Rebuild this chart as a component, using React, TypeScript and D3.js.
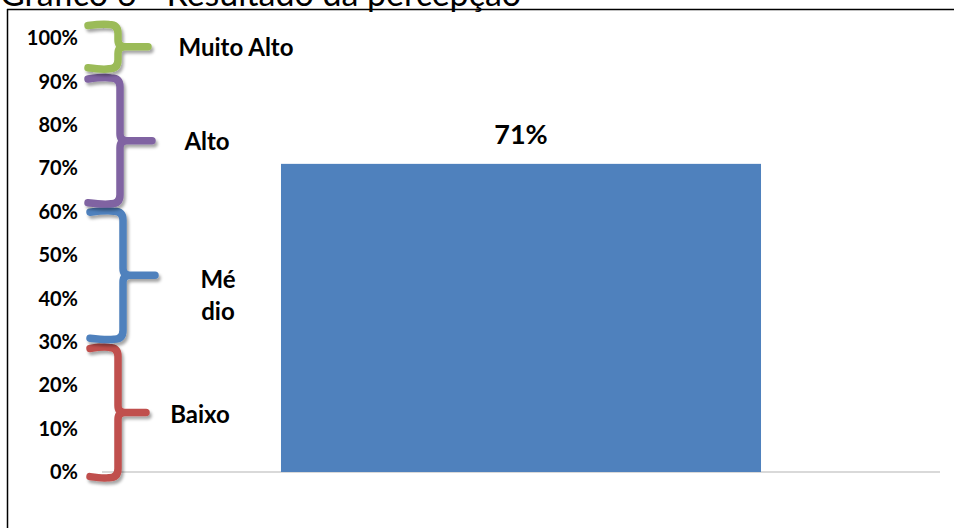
import React from "react";
import * as d3 from "d3";

// ---- data ----
const categories = ["Resultado"];
const values = [0.71];
const yTicks = [0, 0.1, 0.2, 0.3, 0.4, 0.5, 0.6, 0.7, 0.8, 0.9, 1.0];
const titleText = "Gráfico 6 - Resultado da percepção";

// perception bands (braces), ranges
const bandNames = ["Baixo", "Médio", "Alto", "Muito Alto"];
const bandLines = [["Baixo"], ["Mé", "dio"], ["Alto"], ["Muito Alto"]];
const bandLow = [-0.013, 0.306, 0.618, 0.929];
const bandHigh = [0.287, 0.601, 0.908, 1.031];
const bandColors = ["#C0504D", "#4F81BD", "#8064A2", "#9BBB59"];

// ---- layout (not data) ----
const W = 954;
const H = 528;
const braceLeft = [90, 90, 88, 88];
const braceSpine = [118, 123, 120, 118];
const braceTip = [146, 155, 152, 148];
const labelCx = [200, 218, 207, 236];
const labelDy = [2, 4, 1, 1];

const FONT = "Lato, 'Open Sans', sans-serif";

function bracePath(L: number, S: number, P: number, T: number, B: number) {
  const M = (T + B) / 2;
  const r = 9;
  const q = 7;
  return [
    `M${L},${T + 1}`,
    `Q${(L + S) / 2},${T - 1} ${S - r},${T}`,
    `Q${S},${T} ${S},${T + r}`,
    `L${S},${M - q}`,
    `Q${S},${M} ${S + q},${M}`,
    `L${P},${M}`,
    `M${S + q},${M}`,
    `Q${S},${M} ${S},${M + q}`,
    `L${S},${B - r}`,
    `Q${S},${B} ${S - r},${B}`,
    `Q${(L + S) / 2},${B + 1} ${L},${B - 1}`,
  ].join(" ");
}

export default function App() {
  const y = d3.scaleLinear().domain([0, 1]).range([472, 38]);
  const x = d3
    .scaleBand<string>()
    .domain(categories)
    .range([102, 940])
    .paddingInner(0.2716)
    .paddingOuter(0.2716);
  const fmt = d3.format(".0%");

  return (
    <svg
      width={W}
      height={H}
      style={{ position: "fixed", left: 0, top: 0, background: "#fff" }}
      fontFamily={FONT}
    >
      <defs>
        <filter id="shadow" x="-50%" y="-50%" width="200%" height="200%">
          <feDropShadow dx="2" dy="3" stdDeviation="1.8" floodColor="#000" floodOpacity="0.35" />
        </filter>
      </defs>
      <rect x={0} y={0} width={W} height={H} fill="#fff" />

      {/* title, cut off by the top of the page as in the reference */}
      <text x={0} y={6} fontSize={34} fill="#000" fontFamily={FONT}>
        {titleText}
      </text>

      {/* frame */}
      <line x1={7} x2={W} y1={9.5} y2={9.5} stroke="#000" strokeWidth={1.5} />
      <line x1={7.5} x2={7.5} y1={9} y2={H} stroke="#000" strokeWidth={1.5} />

      {/* baseline */}
      <line
        x1={x.range()[0]}
        x2={x.range()[1]}
        y1={y(0)}
        y2={y(0)}
        stroke="#D9D9D9"
        strokeWidth={2}
      />

      {/* bars */}
      {categories.map((c, i) => (
        <g key={c}>
          <rect
            x={x(c)}
            y={y(values[i])}
            width={x.bandwidth()}
            height={y(0) - y(values[i])}
            fill="#4F81BD"
          />
          <text
            x={(x(c) as number) + x.bandwidth() / 2}
            y={y(values[i]) - 20}
            textAnchor="middle"
            fontSize={27}
            fontWeight="bold"
            fill="#000"
          >
            {fmt(values[i])}
          </text>
        </g>
      ))}

      {/* y tick labels */}
      {yTicks.map((t) => (
        <text
          key={t}
          x={78}
          y={y(t)}
          dy="0.36em"
          textAnchor="end"
          fontSize={20}
          fontWeight="bold"
          fill="#000"
        >
          {fmt(t)}
        </text>
      ))}

      {/* braces */}
      {bandNames.map((name, i) => {
        const T = y(bandHigh[i]);
        const B = y(bandLow[i]);
        return (
          <path
            key={name}
            d={bracePath(braceLeft[i], braceSpine[i], braceTip[i], T, B)}
            fill="none"
            stroke={bandColors[i]}
            strokeWidth={7.5}
            strokeLinecap="round"
            strokeLinejoin="round"
            filter="url(#shadow)"
          />
        );
      })}

      {/* band labels */}
      {bandNames.map((name, i) => {
        const mid = (y(bandHigh[i]) + y(bandLow[i])) / 2 + labelDy[i];
        const lines = bandLines[i];
        const lh = 32;
        return (
          <text
            key={name}
            x={labelCx[i]}
            textAnchor="middle"
            fontSize={24}
            fontWeight="bold"
            fill="#000"
          >
            {lines.map((ln, j) => (
              <tspan key={j} x={labelCx[i]} y={mid + j * lh} dy="0.36em">
                {ln}
              </tspan>
            ))}
          </text>
        );
      })}
    </svg>
  );
}
